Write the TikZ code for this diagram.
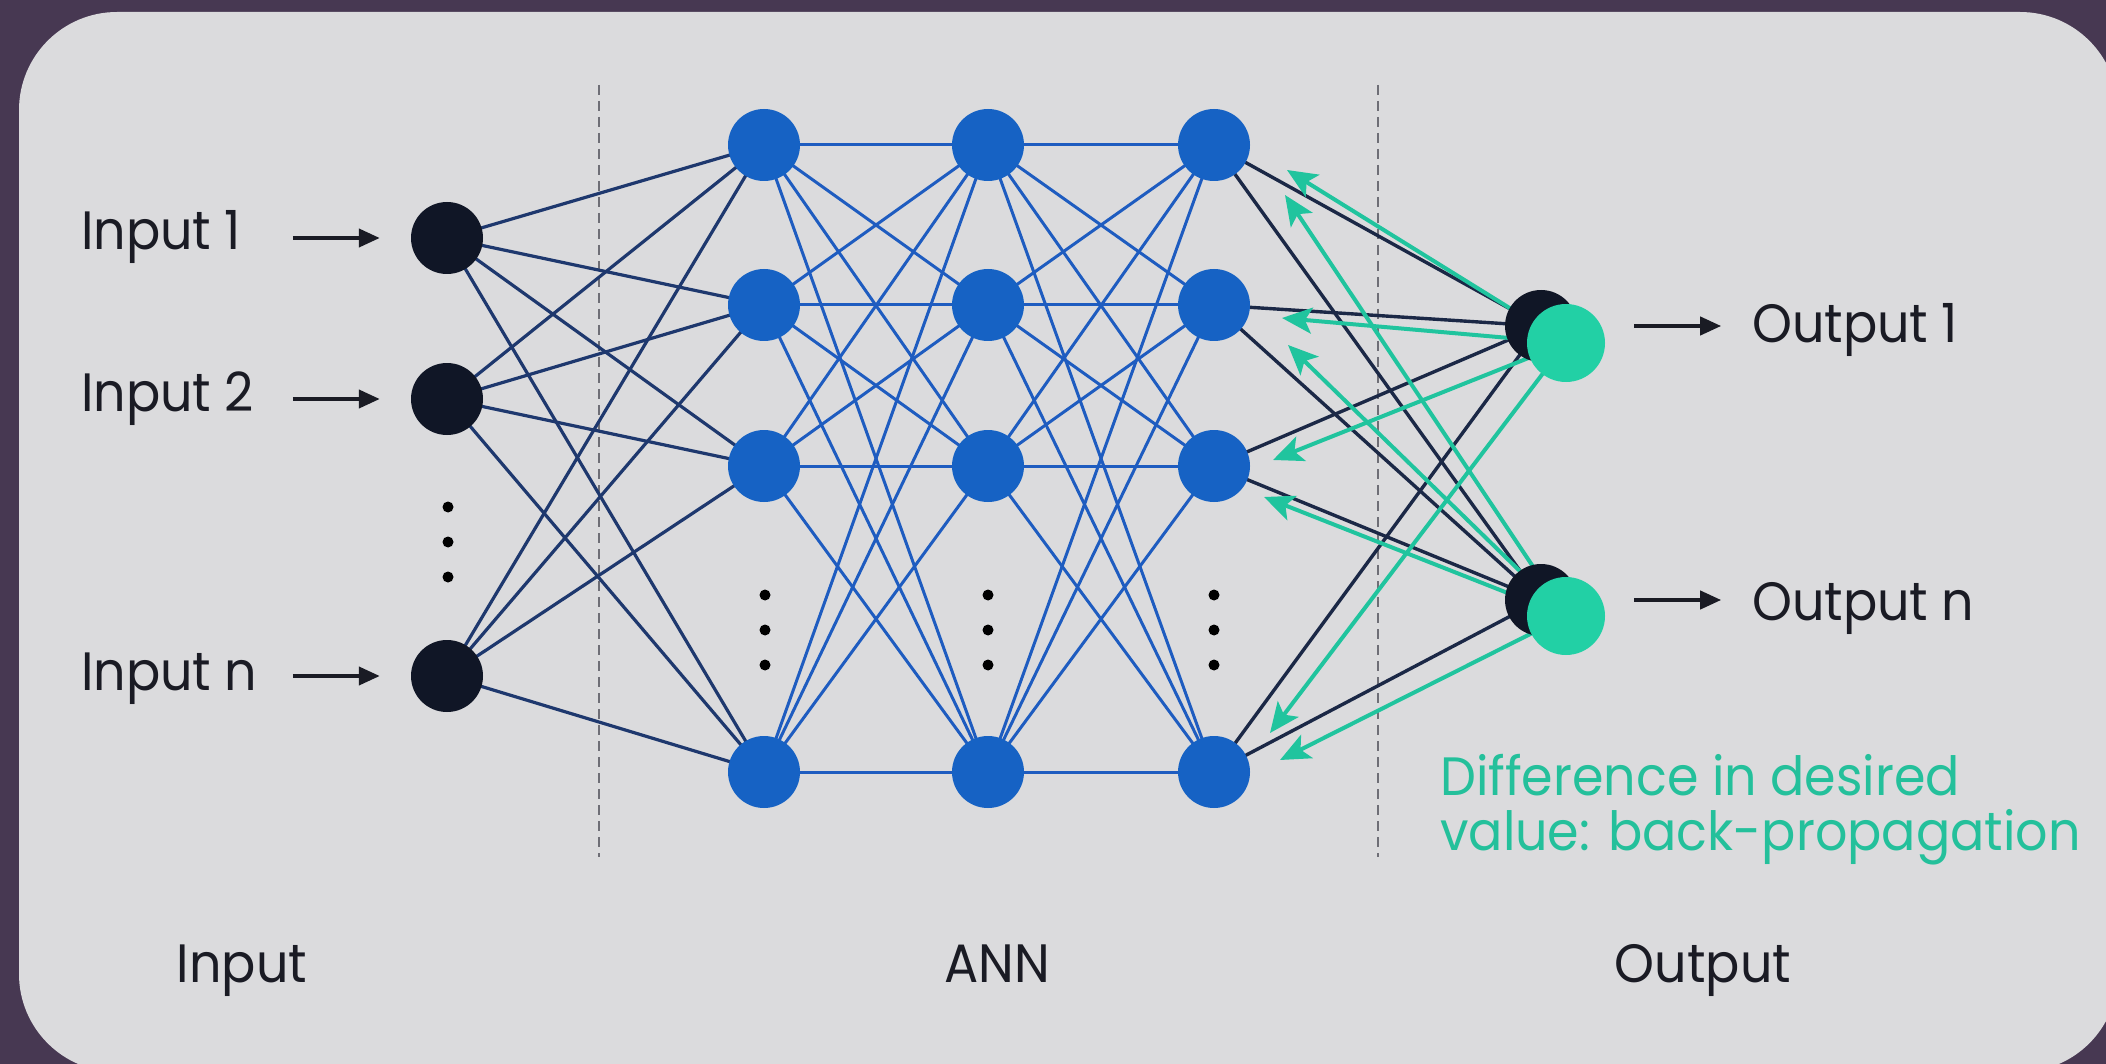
\documentclass[tikz,border=0pt]{standalone}
\usepackage{fontspec}
\setmainfont{Poppins}[FakeStretch=0.94]
\usetikzlibrary{arrows.meta,calc}
\pgfdeclarelayer{bottom}
\pgfdeclarelayer{links}
\pgfsetlayers{bottom,links,main}
\definecolor{bgpurple}{RGB}{71,56,82}
\definecolor{panelgray}{RGB}{219,219,221}
\definecolor{navy}{RGB}{16,22,38}
\definecolor{nodeblue}{RGB}{22,98,196}
\definecolor{linkblue}{RGB}{30,92,192}
\definecolor{inlinkc}{RGB}{30,56,110}
\definecolor{outlinkc}{RGB}{27,40,70}
\definecolor{tealnode}{RGB}{34,208,165}
\definecolor{tealline}{RGB}{32,196,158}
\definecolor{txt}{RGB}{26,27,36}
\definecolor{greentxt}{RGB}{36,192,155}
\definecolor{dashgray}{RGB}{110,110,118}
\begin{document}
\begin{tikzpicture}[x=1pt,y=-1pt,
  neuron/.style={circle,minimum size=72pt,inner sep=0pt,draw=none},
  innode/.style={neuron,fill=navy},
  hidnode/.style={neuron,fill=nodeblue},
  outblack/.style={neuron,fill=navy,minimum size=72pt},
  outteal/.style={neuron,fill=tealnode,minimum size=78pt},
  dotnode/.style={circle,fill=black,minimum size=11pt,inner sep=0pt},
  lbl/.style={font=\fontsize{54}{64}\selectfont,text=txt,inner sep=0pt},
  greenlbl/.style={lbl,text=greentxt},
  sepline/.style={dashgray,line width=2pt,dash pattern=on 10pt off 6pt},
  inlink/.style={inlinkc,line width=3.2pt},
  hidlink/.style={linkblue,line width=3pt},
  outlink/.style={outlinkc,line width=3.4pt},
  backprop/.style={tealline,line width=4pt,-{Stealth[length=30pt,width=26pt,inset=7pt]}},
  smallarrow/.style={txt,line width=4pt,-{Triangle[length=21pt,width=18pt]}}
]
\useasboundingbox (0,0) rectangle (2106,1064);
\begin{pgfonlayer}{bottom}
  \fill[bgpurple] (0,0) rectangle (2106,1064);
  \fill[panelgray,rounded corners=98pt] (19,12) rectangle (2118,1072);
  \draw[sepline] (599,85) -- (599,857);
  \draw[sepline] (1378,85) -- (1378,857);
\end{pgfonlayer}

% input neurons
\node[innode] (i1) at (447,238) {};
\node[innode] (i2) at (447,399) {};
\node[innode] (i3) at (447,676) {};
% hidden neurons
\foreach \c/\x in {1/764,2/988,3/1214}{
  \foreach \r/\y in {1/145,2/305,3/466,4/772}{
    \node[hidnode] (h\c\r) at (\x,\y) {};
  }
}
% output neurons
\node[outblack] (ob1) at (1541,326) {};
\node[outteal] (ot1) at (1566,343) {};
\node[outblack] (obn) at (1541,600) {};
\node[outteal] (otn) at (1566,616) {};

% dots
\foreach \k/\y in {1/507,2/542,3/577}{
  \node[dotnode] (di\k) at (448,\y) {};
}
\foreach \c/\x in {1/765,2/988,3/1214}{
  \foreach \k/\y in {1/595,2/630,3/665}{
    \node[dotnode] (dh\c\k) at (\x,\y) {};
  }
}

% back-propagation arrow tips
\coordinate (g11) at (1287,170);
\coordinate (g1n) at (1285,195);
\coordinate (g21) at (1282,318);
\coordinate (g2n) at (1288,345);
\coordinate (g31) at (1273,460);
\coordinate (g3n) at (1264,497);
\coordinate (g41) at (1270,733);
\coordinate (g4n) at (1280,760);

\begin{pgfonlayer}{links}
  \foreach \a in {1,2,3}{
    \foreach \b in {1,...,4}{
      \draw[inlink] (i\a.center) -- (h1\b.center);
    }
  }
  \foreach \a in {1,...,4}{
    \foreach \b in {1,...,4}{
      \draw[hidlink] (h1\a.center) -- (h2\b.center);
      \draw[hidlink] (h2\a.center) -- (h3\b.center);
    }
  }
  \foreach \a in {1,...,4}{
    \draw[outlink] (h3\a.center) -- (ob1.center);
    \draw[outlink] (h3\a.center) -- (obn.center);
  }
  \foreach \a in {1,...,4}{
    \draw[backprop] (ot1.center) -- (g\a1);
    \draw[backprop] (otn.center) -- (g\a n);
  }
\end{pgfonlayer}

% labels
\node[lbl,anchor=base west] (t1) at (81,250) {Input 1};
\node[lbl,anchor=base west] (t2) at (81,411) {Input 2};
\node[lbl,anchor=base west] (t3) at (81,690) {Input n};
\node[lbl,anchor=base west] (to1) at (1752,342) {Output 1};
\node[lbl,anchor=base west] (ton) at (1752,620) {Output n};
\node[lbl,anchor=base] (bin) at (242,982) {Input};
\node[lbl,anchor=base] (bann) at (997,982) {ANN};
\node[lbl,anchor=base] (bout) at (1703,982) {Output};
\node[greenlbl,anchor=base west] (diff1) at (1440,795) {Difference in desired};
\node[greenlbl,anchor=base west] (diff2) at (1440,850) {value: back-propagation};

% small arrows
\draw[smallarrow] ([xshift=-118pt]i1.west) -- ([xshift=-31pt]i1.west);
\draw[smallarrow] ([xshift=-118pt]i2.west) -- ([xshift=-31pt]i2.west);
\draw[smallarrow] ([xshift=-118pt]i3.west) -- ([xshift=-31pt]i3.west);
\draw[smallarrow] ($(ot1.east |- ob1)+(29,0)$) -- ($(ot1.east |- ob1)+(116,0)$);
\draw[smallarrow] ($(otn.east |- obn)+(29,0)$) -- ($(otn.east |- obn)+(116,0)$);
\end{tikzpicture}
\end{document}
